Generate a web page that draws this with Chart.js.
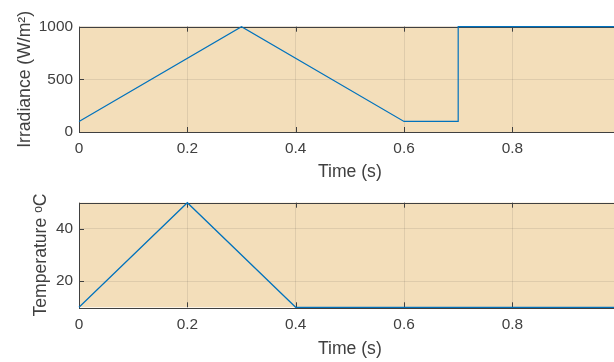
<!DOCTYPE html>
<html>
<head>
<meta charset="utf-8">
<script src="https://cdn.jsdelivr.net/npm/chart.js@4"></script>
<style>
  html, body { margin: 0; padding: 0; background: #fff; }
  #wrap { position: relative; width: 614px; height: 362px; overflow: hidden; }
  canvas { position: absolute; left: 0; }
  #irrChart { top: 0; }
  #tempChart { top: 185px; }
</style>
</head>
<body>
<div id="wrap">
  <canvas id="irrChart" width="640" height="183"></canvas>
  <canvas id="tempChart" width="640" height="177"></canvas>
</div>
<script>
// data
const irrTime = [0, 0.3, 0.6, 0.7, 0.7, 1];
const irradiance = [100, 1000, 100, 100, 1000, 1000];
const tempTime = [0, 0.2, 0.4, 1];
const temperature = [10, 50, 10, 10];

const xTicks = [0, 0.2, 0.4, 0.6, 0.8, 1];
const irrTicks = [0, 500, 1000];
const tempTicks = [20, 40];

const axisColor = '#404040';
const plotBg = 'rgb(243,222,186)';
const lineColor = '#0072BD';
const fontFamily = '"Liberation Sans", Arial, Helvetica, sans-serif';

// MATLAB-like axes: coloured plot area, full box, ticks pointing inward
const matlabBox = {
    id: 'matlabBox',
    beforeDraw(chart) {
        const a = chart.chartArea;
        const ctx = chart.ctx;
        ctx.save();
        ctx.fillStyle = plotBg;
        ctx.fillRect(a.left, a.top, a.right - a.left, a.bottom - a.top);
        ctx.restore();
    },
    beforeDatasetsDraw(chart) {
        const a = chart.chartArea;
        const ctx = chart.ctx;
        const len = 5;
        ctx.save();
        ctx.strokeStyle = axisColor;
        ctx.lineWidth = 1;
        ctx.beginPath();
        chart.scales.x.ticks.forEach(t => {
            const px = Math.round(chart.scales.x.getPixelForValue(t.value)) + 0.5;
            ctx.moveTo(px, a.bottom);
            ctx.lineTo(px, a.bottom - len);
            ctx.moveTo(px, a.top);
            ctx.lineTo(px, a.top + len);
        });
        chart.scales.y.ticks.forEach(t => {
            const py = Math.round(chart.scales.y.getPixelForValue(t.value)) + 0.5;
            ctx.moveTo(a.left, py);
            ctx.lineTo(a.left + len, py);
            ctx.moveTo(a.right, py);
            ctx.lineTo(a.right - len, py);
        });
        ctx.stroke();
        ctx.strokeRect(Math.round(a.left) + 0.5, Math.round(a.top) + 0.5,
            Math.round(a.right - a.left), Math.round(a.bottom - a.top));
        ctx.restore();
    }
};

function makePlot(canvas, xs, ys, yMin, yMax, yTicks, yTitle, opts) {
    const config = {
        type: 'line',
        data: {
            datasets: [{
                data: xs.map((x, i) => ({ x: x, y: ys[i] })),
                borderColor: lineColor,
                borderWidth: 1.2,
                pointRadius: 0,
                tension: 0,
                fill: false,
                clip: false
            }]
        },
        options: {
            responsive: false,
            animation: false,
            devicePixelRatio: 1,
            layout: { padding: { top: opts.top, right: 19.3, left: 0, bottom: opts.bottom } },
            plugins: { legend: { display: false }, tooltip: { enabled: false } },
            scales: {
                x: {
                    type: 'linear',
                    min: 0,
                    max: 1,
                    afterBuildTicks: s => { s.ticks = xTicks.map(v => ({ value: v })); },
                    afterFit: s => { s.height = opts.xHeight; },
                    grid: { color: 'rgba(38,38,38,0.1)', drawTicks: false },
                    border: { display: false },
                    ticks: {
                        color: axisColor,
                        padding: 8,
                        maxRotation: 0,
                        font: { family: fontFamily, size: 15.4 },
                        callback: v => String(Number(v.toFixed(1)))
                    },
                    title: {
                        display: true,
                        text: 'Time (s)',
                        color: axisColor,
                        padding: { top: 0, bottom: opts.titlePad },
                        font: { family: fontFamily, size: 17.6 }
                    }
                },
                y: {
                    min: yMin,
                    max: yMax,
                    afterBuildTicks: s => { s.ticks = yTicks.map(v => ({ value: v })); },
                    afterFit: s => { s.width = 79; },
                    grid: { color: 'rgba(38,38,38,0.1)', drawTicks: false },
                    border: { display: false },
                    ticks: {
                        color: axisColor,
                        padding: 6,
                        font: { family: fontFamily, size: 15.4 },
                        callback: v => String(v)
                    },
                    title: {
                        display: true,
                        text: yTitle,
                        color: axisColor,
                        padding: { top: opts.yTitlePad, bottom: 0 },
                        font: { family: fontFamily, size: 17.6 }
                    }
                }
            }
        },
        plugins: [matlabBox]
    };
    return new Chart(canvas, config);
}

makePlot(document.getElementById('irrChart'), irrTime, irradiance, 0, 1000, irrTicks,
    'Irradiance (W/m²)', { top: 26.7, bottom: 0, xHeight: 51, titlePad: 0, yTitlePad: 14.5 });

makePlot(document.getElementById('tempChart'), tempTime, temperature, 10, 50, tempTicks,
    'Temperature ᵒC', { top: 17.7, bottom: 0, xHeight: 54.7, titlePad: 2.4, yTitlePad: 31 });
</script>
</body>
</html>
